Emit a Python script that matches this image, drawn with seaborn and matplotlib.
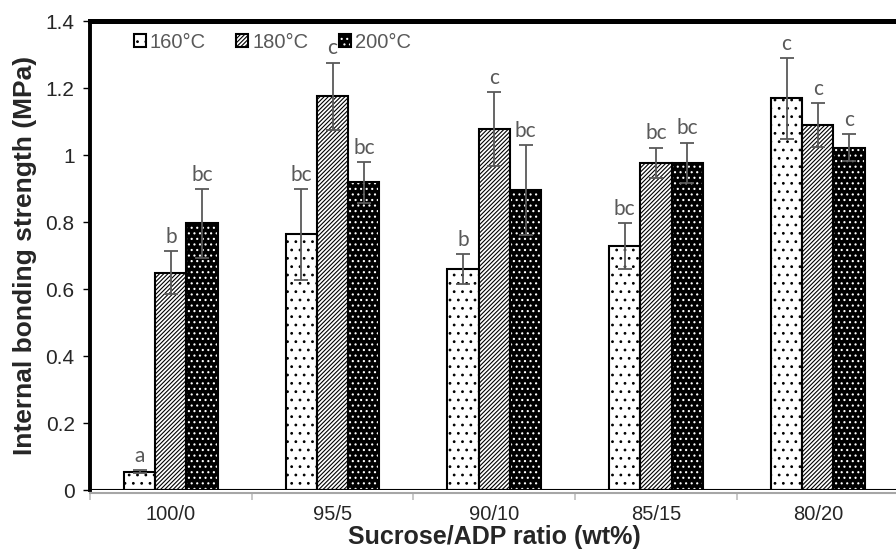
import numpy as np
import pandas as pd
import matplotlib
matplotlib.use('Agg')
import matplotlib.pyplot as plt
import seaborn as sns
from matplotlib.patches import Patch, Rectangle
from matplotlib.legend_handler import HandlerTuple
from matplotlib import ticker

# data
ratios = ['100/0', '95/5', '90/10', '85/15', '80/20']
temps = ['160°C', '180°C', '200°C']
ib_160 = [0.055, 0.763, 0.660, 0.728, 1.169]
ib_180 = [0.649, 1.176, 1.077, 0.977, 1.090]
ib_200 = [0.796, 0.918, 0.895, 0.977, 1.022]
sd_160 = [0.004, 0.136, 0.045, 0.069, 0.120]
sd_180 = [0.063, 0.100, 0.110, 0.045, 0.066]
sd_200 = [0.103, 0.060, 0.135, 0.060, 0.041]
let_160 = ['a', 'bc', 'b', 'bc', 'c']
let_180 = ['b', 'c', 'c', 'bc', 'c']
let_200 = ['bc', 'bc', 'bc', 'bc', 'c']

df = pd.DataFrame({
    'ratio': ratios * 3,
    'temp': [t for t in temps for _ in ratios],
    'ib': ib_160 + ib_180 + ib_200,
})
sds = [sd_160, sd_180, sd_200]
letters = [let_160, let_180, let_200]

sns.set_style('white')
plt.rcParams['font.family'] = ['Liberation Sans', 'DejaVu Sans']
plt.rcParams['hatch.linewidth'] = 0.8

# face colour, hatch, hatch colour
styles = [('white', '..', 'black'), ('white', '////////', 'black'), ('black', '...', 'white')]
gray = '#595959'

fig = plt.figure(figsize=(8.96, 5.56), dpi=100)
ax = fig.add_axes([0.1004, 0.1187, 0.9026, 0.8435])

sns.barplot(data=df, x='ratio', y='ib', hue='temp', order=ratios, hue_order=temps,
            width=0.58, palette=['white', 'white', 'black'], ax=ax, legend=False)

bar_groups = list(ax.containers)
for i, cont in enumerate(bar_groups):
    fc, hatch, hc = styles[i]
    xs, tops = [], []
    for p in cont.patches:
        p.set_facecolor(fc)
        p.set_hatch(hatch)
        p.set_edgecolor(hc)
        p.set_linewidth(0)
        ax.add_patch(Rectangle(p.get_xy(), p.get_width(), p.get_height(),
                               fill=False, ec='black', lw=1.5, zorder=3))
        xs.append(p.get_x() + p.get_width() / 2)
        tops.append(p.get_height())
    ax.errorbar(xs, tops, yerr=sds[i], fmt='none', ecolor=gray, elinewidth=1.3,
                capsize=5, capthick=1.3, zorder=4)
    for x, t, s, lab in zip(xs, tops, sds[i], letters[i]):
        ax.annotate(lab, (x, t + s), xytext=(0, 3), textcoords='offset points',
                    ha='center', va='bottom', fontsize=15, color=gray,
                    family=['Lato', 'DejaVu Sans'])

ax.set_ylim(0, 1.4)
ax.set_xlim(-0.5, 4.5)
ax.yaxis.set_major_locator(ticker.MultipleLocator(0.2))
ax.yaxis.set_major_formatter(ticker.FuncFormatter(lambda v, _: '{:g}'.format(round(v, 1))))
ax.axhline(0, color='black', lw=1.5, zorder=5)

ax.spines['right'].set_visible(False)
ax.spines['left'].set_linewidth(2.8)
ax.spines['left'].set_color('black')
ax.spines['top'].set_linewidth(3.6)
ax.spines['top'].set_color('black')
ax.spines['bottom'].set_color('#a6a6a6')
ax.spines['bottom'].set_linewidth(1.5)
ax.spines['bottom'].set_position(('outward', 2.5))

ax.tick_params(axis='y', direction='out', length=5, width=1, color='black',
               labelsize=15, pad=6, left=True)
ax.tick_params(axis='x', which='major', length=0, labelsize=14.5, pad=8)
ax.set_xticks(np.arange(-0.5, 5), minor=True)
ax.tick_params(axis='x', which='minor', length=5, width=1.2, color='#bfbfbf', bottom=True)

ax.set_xlabel('Sucrose/ADP ratio (wt%)', fontsize=18, fontweight='bold', labelpad=1)
ax.set_ylabel('Internal bonding strength (MPa)', fontsize=19, fontweight='bold', labelpad=6)

handles = []
for fc, hatch, hc in styles:
    handles.append((Patch(facecolor=fc, hatch=hatch, edgecolor=hc, lw=0),
                    Patch(fill=False, edgecolor='black', lw=1.5)))
leg = ax.legend(handles, temps, handler_map={tuple: HandlerTuple(ndivide=1)},
                loc='upper left', bbox_to_anchor=(0.054, 0.975), ncol=3, frameon=False,
                fontsize=14.5, handlelength=0.6, handleheight=0.6, handletextpad=0.2,
                columnspacing=1.5, borderpad=0, borderaxespad=0)
for t in leg.get_texts():
    t.set_color(gray)

fig.savefig('out.png', dpi=100)
